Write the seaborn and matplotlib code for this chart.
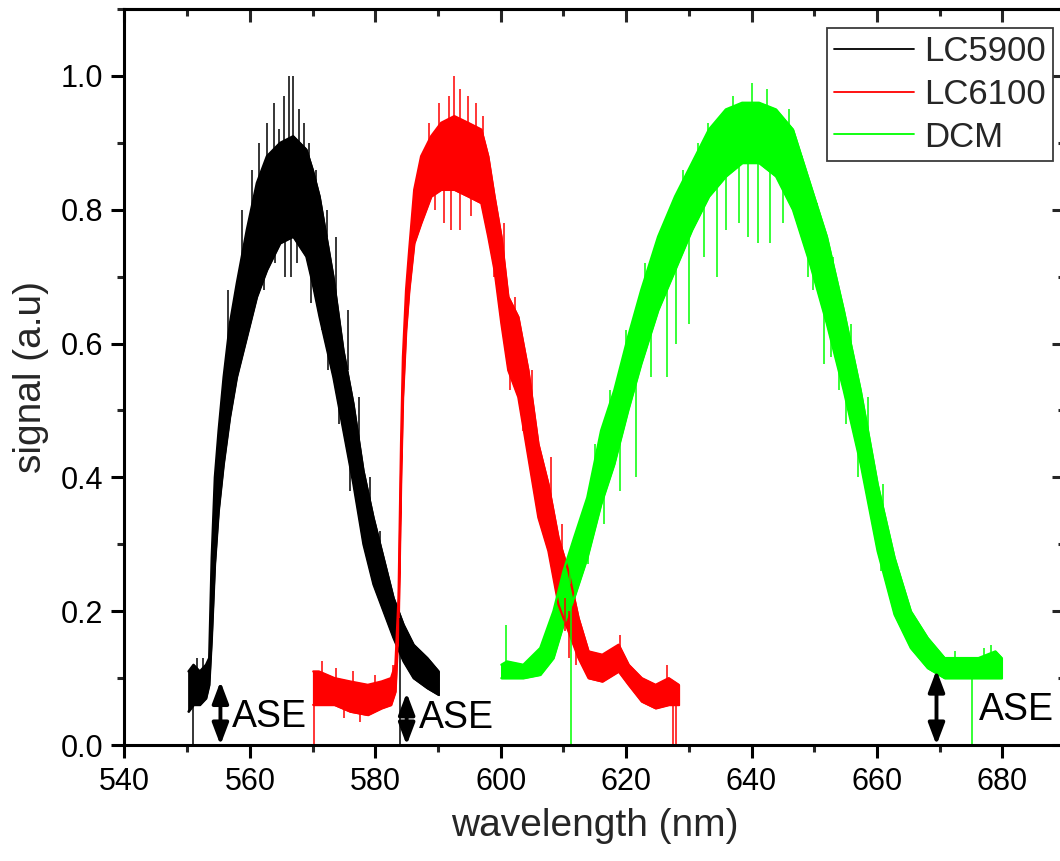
import numpy as np
import pandas as pd
import matplotlib
matplotlib.use("Agg")
import matplotlib.pyplot as plt
from matplotlib.lines import Line2D
from matplotlib.ticker import MultipleLocator
import seaborn as sns

# ---------------- data ----------------
series_names = ["LC5900", "LC6100", "DCM"]
series_colors = ["#000000", "#ff0000", "#00ff00"]

lc5900_wl = [550.2, 551.0, 552.0, 553.0, 553.5, 553.9, 554.4, 555.0, 555.8, 556.8,
             557.9, 559.5, 561.1, 562.7, 564.8, 566.9, 569.0, 570.0, 571.1, 573.3,
             574.9, 576.5, 578.1, 579.7, 581.3, 582.9, 584.5, 586.1, 588.3, 590.1]
lc5900_lo = [0.05, 0.06, 0.06, 0.07, 0.09, 0.16, 0.27, 0.35, 0.42, 0.49,
             0.55, 0.61, 0.67, 0.71, 0.75, 0.76, 0.73, 0.69, 0.64, 0.55,
             0.47, 0.39, 0.30, 0.24, 0.20, 0.16, 0.125, 0.10, 0.085, 0.075]
lc5900_hi = [0.11, 0.12, 0.11, 0.12, 0.13, 0.28, 0.40, 0.47, 0.55, 0.63,
             0.69, 0.77, 0.84, 0.88, 0.90, 0.91, 0.89, 0.86, 0.82, 0.70,
             0.59, 0.51, 0.41, 0.34, 0.28, 0.22, 0.18, 0.15, 0.13, 0.11]

lc6100_wl = [570.1, 571.0, 573.5, 576.0, 578.8, 581.0, 582.5, 583.2, 583.7, 584.1,
             584.4, 584.9, 585.4, 586.2, 587.3, 588.9, 590.5, 592.6, 594.8, 596.9,
             598.0, 599.0, 600.1, 601.2, 602.8, 604.4, 606.0, 607.6, 609.2, 610.8,
             612.4, 614.0, 616.2, 618.8, 620.4, 622.5, 624.7, 626.8, 628.4]
lc6100_lo = [0.06, 0.06, 0.06, 0.05, 0.045, 0.055, 0.06, 0.08, 0.18, 0.40,
             0.52, 0.62, 0.68, 0.75, 0.78, 0.82, 0.83, 0.83, 0.82, 0.81,
             0.76, 0.71, 0.63, 0.56, 0.52, 0.43, 0.34, 0.29, 0.21, 0.17,
             0.13, 0.10, 0.095, 0.11, 0.09, 0.065, 0.055, 0.06, 0.06]
lc6100_hi = [0.11, 0.11, 0.10, 0.095, 0.09, 0.095, 0.10, 0.12, 0.22, 0.45,
             0.58, 0.68, 0.74, 0.83, 0.88, 0.91, 0.93, 0.94, 0.93, 0.92,
             0.88, 0.82, 0.76, 0.67, 0.64, 0.56, 0.45, 0.39, 0.31, 0.26,
             0.19, 0.14, 0.135, 0.15, 0.12, 0.10, 0.09, 0.10, 0.09]

dcm_wl = [600.1, 601.0, 603.6, 606.3, 608.4, 610.0, 611.7, 613.8, 616.0, 618.1,
          620.3, 622.4, 625.1, 627.8, 630.5, 633.2, 635.9, 638.5, 641.2, 643.9,
          646.6, 649.3, 652.0, 654.7, 657.4, 660.1, 662.8, 665.4, 668.1, 670.8,
          673.5, 676.2, 678.9, 679.9]
dcm_lo = [0.10, 0.10, 0.10, 0.105, 0.13, 0.18, 0.22, 0.28, 0.36, 0.42,
          0.50, 0.57, 0.65, 0.71, 0.77, 0.82, 0.85, 0.87, 0.87, 0.85,
          0.80, 0.72, 0.63, 0.53, 0.42, 0.29, 0.195, 0.145, 0.115, 0.10,
          0.10, 0.10, 0.10, 0.10]
dcm_hi = [0.12, 0.125, 0.12, 0.145, 0.20, 0.26, 0.31, 0.37, 0.47, 0.53,
          0.61, 0.68, 0.76, 0.82, 0.87, 0.92, 0.95, 0.96, 0.96, 0.95,
          0.92, 0.84, 0.76, 0.65, 0.53, 0.39, 0.28, 0.20, 0.16, 0.13,
          0.13, 0.13, 0.14, 0.13]

# noise spikes: wavelength, start level, end level
lc5900_spk_x = [550.9, 583.9, 561.5, 562.8, 563.8, 564.6, 565.4, 566.3, 566.9, 567.8,
                568.6, 569.5, 570.6, 572.3, 562.3, 564.0, 565.6, 566.6, 567.5, 569.7,
                571.5, 557.2, 573.8, 575.6, 577.4, 579.2, 580.8, 572.4, 574.2, 575.9,
                556.5, 558.7, 560.3, 551.5, 552.5]
lc5900_spk_a = [0.07, 0.19, 0.82, 0.86, 0.88, 0.88, 0.88, 0.88, 0.88, 0.88,
                0.87, 0.86, 0.83, 0.76, 0.76, 0.78, 0.79, 0.79, 0.78, 0.74,
                0.70, 0.60, 0.66, 0.56, 0.44, 0.32, 0.26, 0.64, 0.56, 0.46,
                0.58, 0.72, 0.78, 0.09, 0.09]
lc5900_spk_b = [0.00, 0.00, 0.90, 0.93, 0.96, 0.92, 0.97, 1.00, 1.00, 0.95,
                0.93, 0.90, 0.86, 0.80, 0.68, 0.72, 0.70, 0.70, 0.72, 0.66,
                0.62, 0.55, 0.76, 0.65, 0.52, 0.40, 0.32, 0.56, 0.48, 0.38,
                0.68, 0.80, 0.86, 0.13, 0.13]

lc6100_spk_x = [570.3, 627.5, 628.0, 588.5, 590.2, 591.8, 592.5, 593.5, 594.8, 596.0,
                597.2, 589.5, 591.0, 592.0, 593.5, 595.3, 599.0, 610.9, 612.0, 571.5,
                573.8, 576.5, 580.0, 582.8, 577.5, 575.0, 600.5, 602.3, 605.0, 608.0,
                609.8, 619.0, 626.5, 601.5, 603.6, 607.0, 610.2]
lc6100_spk_a = [0.08, 0.08, 0.08, 0.88, 0.90, 0.91, 0.91, 0.91, 0.90, 0.90,
                0.89, 0.84, 0.85, 0.85, 0.85, 0.84, 0.74, 0.20, 0.16, 0.09,
                0.08, 0.08, 0.08, 0.09, 0.07, 0.07, 0.72, 0.60, 0.50, 0.36,
                0.27, 0.13, 0.08, 0.60, 0.52, 0.36, 0.22]
lc6100_spk_b = [0.00, 0.00, 0.00, 0.93, 0.96, 0.97, 1.00, 0.98, 0.97, 0.96,
                0.94, 0.80, 0.78, 0.77, 0.77, 0.79, 0.70, 0.13, 0.12, 0.125,
                0.115, 0.11, 0.105, 0.12, 0.035, 0.04, 0.78, 0.67, 0.56, 0.43,
                0.33, 0.165, 0.12, 0.53, 0.47, 0.32, 0.17]

dcm_spk_x = [611.2, 675.2, 600.9, 611.0, 633.0, 637.0, 640.0, 642.5, 646.0, 677.0,
             614.0, 616.5, 619.0, 621.5, 624.0, 626.5, 628.0, 630.0, 632.5, 634.5,
             636.0, 638.0, 639.5, 641.0, 643.0, 645.0, 647.0, 649.0, 651.5, 654.0,
             657.0, 648.0, 650.5, 653.0, 655.8, 658.5, 661.0, 649.8, 652.7, 655.0,
             656.3, 659.0, 660.7, 615.0, 617.5, 620.0, 623.0, 626.0, 629.0, 631.5,
             672.5, 678.2]
dcm_spk_a = [0.22, 0.11, 0.11, 0.24, 0.88, 0.92, 0.93, 0.93, 0.89, 0.12,
             0.31, 0.40, 0.47, 0.55, 0.64, 0.69, 0.75, 0.80, 0.85, 0.87,
             0.88, 0.90, 0.90, 0.90, 0.89, 0.87, 0.84, 0.78, 0.68, 0.60,
             0.48, 0.84, 0.76, 0.68, 0.57, 0.46, 0.33, 0.76, 0.66, 0.58,
             0.55, 0.42, 0.32, 0.40, 0.48, 0.56, 0.64, 0.72, 0.78, 0.83,
             0.12, 0.12]
dcm_spk_b = [0.00, 0.00, 0.18, 0.27, 0.93, 0.97, 0.99, 0.98, 0.95, 0.145,
             0.27, 0.33, 0.38, 0.40, 0.55, 0.55, 0.60, 0.63, 0.73, 0.70,
             0.77, 0.78, 0.76, 0.75, 0.75, 0.78, 0.80, 0.70, 0.57, 0.53,
             0.40, 0.88, 0.81, 0.73, 0.63, 0.52, 0.39, 0.68, 0.58, 0.48,
             0.50, 0.37, 0.26, 0.45, 0.53, 0.62, 0.72, 0.78, 0.86, 0.90,
             0.14, 0.15]

# ASE arrows and labels
ase_arrow_x = [555.3, 585.0, 669.5]
ase_arrow_top = [0.095, 0.078, 0.112]
ase_text_x = [557.1, 587.0, 676.2]
ase_text_y = [0.042, 0.040, 0.052]
ase_label = "ASE"

xtick_vals = [540, 560, 580, 600, 620, 640, 660, 680]
ytick_vals = [0.0, 0.2, 0.4, 0.6, 0.8, 1.0]
ytick_labels = ["0.0", "0.2", "0.4", "0.6", "0.8", "1.0"]

# ---------------- build tables ----------------
wls = [lc5900_wl, lc6100_wl, dcm_wl]
los = [lc5900_lo, lc6100_lo, dcm_lo]
his = [lc5900_hi, lc6100_hi, dcm_hi]
spx = [lc5900_spk_x, lc6100_spk_x, dcm_spk_x]
spa = [lc5900_spk_a, lc6100_spk_a, dcm_spk_a]
spb = [lc5900_spk_b, lc6100_spk_b, dcm_spk_b]

rows = []
for name, w, lo, hi in zip(series_names, wls, los, his):
    for xv, l, h in zip(w, lo, hi):
        rows.append(dict(wavelength=xv, signal=l, dye=name, edge="lo"))
        rows.append(dict(wavelength=xv, signal=h, dye=name, edge="hi"))
df = pd.DataFrame(rows)

# ---------------- style ----------------
sns.set_style("ticks")
plt.rcParams['font.family'] = ['Liberation Sans', 'DejaVu Sans']

fig = plt.figure(figsize=(10.6, 8.61), dpi=100)
ax = fig.add_axes([0.11745, 0.1347, 0.8873, 0.8548])

palette = dict(zip(series_names, series_colors))
sns.lineplot(data=df, x="wavelength", y="signal", hue="dye", units="edge",
             estimator=None, palette=palette, linewidth=1.6, legend=False, ax=ax)

for name, col, w, lo, hi, sx, sa, sb in zip(series_names, series_colors, wls, los, his, spx, spa, spb):
    ax.fill_between(w, lo, hi, color=col, linewidth=1.2, edgecolor=col)
    ax.vlines(sx, sa, sb, color=col, linewidth=1.1)

for xa, ya, xt, yt in zip(ase_arrow_x, ase_arrow_top, ase_text_x, ase_text_y):
    ax.annotate("", xy=(xa, 0.0), xytext=(xa, ya),
                arrowprops=dict(arrowstyle="<|-|>,head_length=0.45,head_width=0.17",
                                color="black", lw=2.8, mutation_scale=29,
                                shrinkA=0, shrinkB=0))
    ax.text(xt, yt, ase_label, fontsize=27, ha="left", va="center", color="black")

ax.set_xlim(540, 690)
ax.set_ylim(0, 1.1)
ax.set_xticks(xtick_vals)
ax.set_xticklabels([str(v) for v in xtick_vals])
ax.xaxis.set_minor_locator(MultipleLocator(10))
ax.set_yticks(ytick_vals)
ax.set_yticklabels(ytick_labels)
ax.yaxis.set_minor_locator(MultipleLocator(0.1))

for sp in ax.spines.values():
    sp.set_linewidth(2.2)
    sp.set_color("black")
    sp.set_visible(True)

ax.tick_params(axis="both", which="major", direction="out", length=9.5, width=2.2,
               labelsize=22, pad=6, colors="black")
ax.tick_params(axis="both", which="minor", direction="out", length=5, width=2.2)
ax.tick_params(axis="x", which="both", top=False)
ax.tick_params(axis="y", which="both", right=False)

# inward ticks on top and right
secx = ax.secondary_xaxis("top")
secx.set_xticks(xtick_vals)
secx.xaxis.set_minor_locator(MultipleLocator(10))
secx.tick_params(which="major", direction="in", length=9.5, width=2.2, labeltop=False)
secx.tick_params(which="minor", direction="in", length=5, width=2.2)
secx.spines["top"].set_linewidth(2.2)
secy = ax.secondary_yaxis("right")
secy.set_yticks(ytick_vals)
secy.yaxis.set_minor_locator(MultipleLocator(0.1))
secy.tick_params(which="major", direction="in", length=9.5, width=2.2, labelright=False)
secy.tick_params(which="minor", direction="in", length=5, width=2.2)
secy.spines["right"].set_linewidth(2.2)

ax.set_xlabel("wavelength (nm)", fontsize=28, labelpad=8)
ax.set_ylabel("signal (a.u)", fontsize=28, labelpad=8)

handles = [Line2D([0], [0], color=c, lw=1.3) for c in series_colors]
leg = ax.legend(handles, series_names, loc="upper right", fontsize=25,
                frameon=True, fancybox=False, edgecolor="#3a3a3a",
                handlelength=2.3, handletextpad=0.3, labelspacing=0.28,
                borderpad=0.2, borderaxespad=0.0,
                bbox_to_anchor=(0.9872, 0.974))
leg.get_frame().set_linewidth(1.3)
leg.get_frame().set_alpha(1.0)

fig.savefig("out.png", dpi=100)
